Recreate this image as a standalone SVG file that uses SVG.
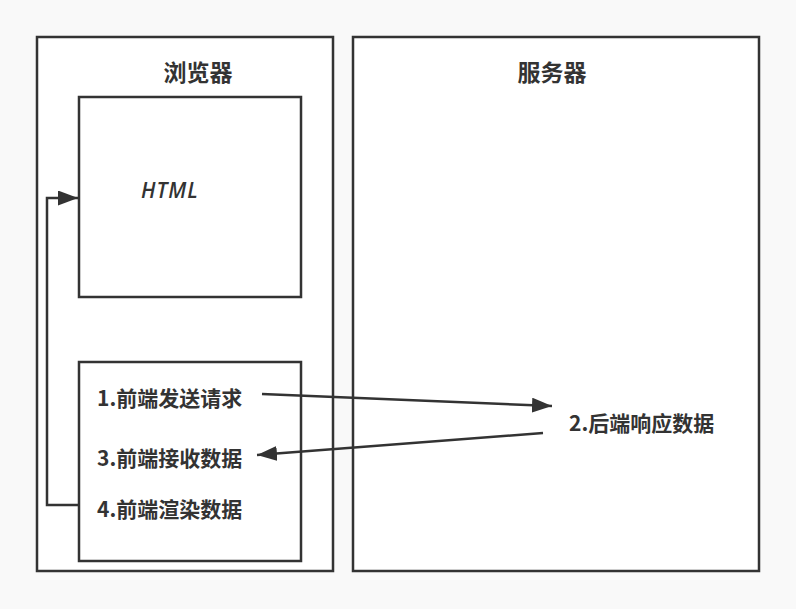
<svg xmlns="http://www.w3.org/2000/svg" width="796" height="609" viewBox="0 0 796 609">
<style>
.box{fill:#fff;stroke:#333;stroke-width:2.5}
.title{font-family:"Noto Sans CJK SC","Noto Sans",sans-serif;font-weight:bold;font-size:23px;fill:#333;text-anchor:middle}
.lbl{font-family:"Noto Sans CJK SC","Noto Sans",sans-serif;font-weight:bold;font-size:21px;fill:#333}
.html{font-family:"Open Sans","Noto Sans",sans-serif;font-style:italic;font-weight:600;font-size:21px;letter-spacing:1px;fill:#333}
.edge{fill:none;stroke:#333;stroke-width:2.5}
</style>
<defs>
<marker id="ah" markerUnits="userSpaceOnUse" markerWidth="22" markerHeight="16" refX="20" refY="7.5" orient="auto">
<path d="M0,0 L20,7.5 L0,15 Z" fill="#333"/>
</marker>
</defs>
<rect width="796" height="609" fill="#f9f9f9"/>
<g id="browser">
<rect class="box" x="37" y="37" width="296" height="534"/>
<text class="title" x="198" y="81">浏览器</text>
</g>
<g id="server">
<rect class="box" x="353" y="37" width="406" height="534"/>
<text class="title" x="552" y="81">服务器</text>
</g>
<g id="html">
<rect class="box" x="79" y="97" width="222" height="200"/>
<text class="html" x="141" y="198">HTML</text>
</g>
<g id="frontend">
<rect class="box" x="79" y="362" width="222" height="199"/>
<text class="lbl" x="97" y="406">1.前端发送请求</text>
<text class="lbl" x="97" y="466">3.前端接收数据</text>
<text class="lbl" x="97" y="517">4.前端渲染数据</text>
</g>
<g id="backend">
<text class="lbl" x="569" y="431">2.后端响应数据</text>
</g>
<g id="connectors">
<path class="edge" d="M79,505 L47,505 L47,198 L78,198" marker-end="url(#ah)"/>
<path class="edge" d="M262,394 L552,406" marker-end="url(#ah)"/>
<path class="edge" d="M543,433 L257,455" marker-end="url(#ah)"/>
</g>
</svg>
